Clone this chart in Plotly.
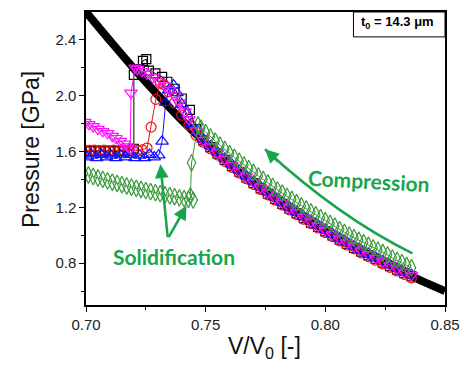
import plotly.graph_objects as go

# ---------------- data ----------------
# fitted equation-of-state curve (thick black line)
curve_v = [0.70, 0.71, 0.72, 0.73, 0.74, 0.75, 0.76, 0.77, 0.78, 0.79,
           0.80, 0.81, 0.82, 0.83, 0.84, 0.85]
curve_p = [2.600, 2.395, 2.195, 2.005, 1.825, 1.660, 1.510, 1.375, 1.250, 1.135,
           1.030, 0.930, 0.840, 0.755, 0.675, 0.600]

# black squares
sq_v = [0.836, 0.833, 0.830, 0.827, 0.824, 0.821, 0.818, 0.815, 0.812, 0.809,
        0.806, 0.803, 0.800, 0.797, 0.794, 0.791, 0.788, 0.785, 0.782, 0.779,
        0.776, 0.773, 0.770, 0.767, 0.764, 0.761, 0.758, 0.755, 0.752, 0.749,
        0.746, 0.7434, 0.740, 0.737, 0.734, 0.7318, 0.729, 0.7263, 0.7252, 0.7238,
        0.7222, 0.7200, 0.7200, 0.718, 0.716, 0.714, 0.712, 0.710, 0.708, 0.706,
        0.704, 0.702, 0.700]
sq_p = [0.705, 0.729, 0.753, 0.779, 0.804, 0.830, 0.856, 0.883, 0.910, 0.938,
        0.968, 0.998, 1.028, 1.060, 1.091, 1.123, 1.156, 1.190, 1.225, 1.261,
        1.298, 1.336, 1.374, 1.414, 1.455, 1.496, 1.540, 1.585, 1.632, 1.680,
        1.760, 1.898, 1.980, 2.050, 2.100, 2.135, 2.160, 2.180, 2.262, 2.250,
        2.190, 2.150, 1.620, 1.605, 1.600, 1.605, 1.600, 1.605, 1.600, 1.605,
        1.600, 1.605, 1.600]

# red circles
ci_v = [0.836, 0.833, 0.830, 0.827, 0.824, 0.821, 0.818, 0.815, 0.812, 0.809,
        0.806, 0.803, 0.800, 0.797, 0.794, 0.791, 0.788, 0.785, 0.782, 0.779,
        0.776, 0.773, 0.770, 0.767, 0.764, 0.761, 0.758, 0.755, 0.752, 0.749,
        0.746, 0.743, 0.740, 0.737, 0.7345, 0.7325, 0.731, 0.7292, 0.7272, 0.7255,
        0.7235, 0.7215, 0.7195, 0.7175, 0.7155, 0.7135, 0.7115, 0.7095, 0.7075, 0.7055,
        0.7035, 0.7015, 0.6995]
ci_p = [0.695, 0.720, 0.744, 0.770, 0.795, 0.821, 0.847, 0.874, 0.902, 0.930,
        0.960, 0.990, 1.020, 1.052, 1.083, 1.115, 1.148, 1.182, 1.217, 1.253,
        1.290, 1.328, 1.365, 1.405, 1.446, 1.487, 1.530, 1.575, 1.620, 1.667,
        1.716, 1.790, 1.860, 1.950, 2.030, 2.080, 2.090, 1.974, 1.775, 1.625,
        1.612, 1.608, 1.610, 1.607, 1.610, 1.606, 1.610, 1.607, 1.611, 1.607,
        1.610, 1.608, 1.610]

# blue up-triangles
tu_v = [0.836, 0.833, 0.830, 0.827, 0.824, 0.821, 0.818, 0.815, 0.812, 0.809,
        0.806, 0.803, 0.800, 0.797, 0.794, 0.791, 0.788, 0.785, 0.782, 0.779,
        0.776, 0.773, 0.770, 0.767, 0.764, 0.761, 0.758, 0.755, 0.752, 0.749,
        0.7468, 0.744, 0.742, 0.740, 0.738, 0.7366, 0.7345, 0.7333, 0.7318, 0.7304,
        0.7285, 0.7265, 0.7245, 0.7225, 0.7205, 0.7185, 0.7165, 0.7145, 0.7125, 0.7105,
        0.7085, 0.7065, 0.7045, 0.7025, 0.7005]
tu_p = [0.717, 0.741, 0.765, 0.790, 0.816, 0.842, 0.868, 0.895, 0.922, 0.950,
        0.980, 1.010, 1.040, 1.072, 1.103, 1.135, 1.168, 1.202, 1.237, 1.273,
        1.310, 1.348, 1.385, 1.426, 1.466, 1.507, 1.550, 1.595, 1.640, 1.687,
        1.740, 1.800, 1.870, 1.940, 2.020, 2.076, 2.040, 1.950, 1.673, 1.574,
        1.560, 1.578, 1.555, 1.572, 1.555, 1.578, 1.560, 1.575, 1.555, 1.572,
        1.560, 1.578, 1.555, 1.572, 1.560]

# magenta down-triangles
td_v = [0.836, 0.833, 0.830, 0.827, 0.824, 0.821, 0.818, 0.815, 0.812, 0.809,
        0.806, 0.803, 0.800, 0.797, 0.794, 0.791, 0.788, 0.785, 0.782, 0.779,
        0.776, 0.773, 0.770, 0.767, 0.764, 0.761, 0.758, 0.755, 0.752, 0.749,
        0.746, 0.743, 0.7414, 0.739, 0.737, 0.735, 0.733, 0.7305, 0.728, 0.7255,
        0.7235, 0.7215, 0.7205, 0.7188, 0.7185, 0.7175, 0.716, 0.7143, 0.7125, 0.711,
        0.709, 0.707, 0.705, 0.703, 0.7012, 0.6995]
td_p = [0.712, 0.736, 0.760, 0.785, 0.811, 0.836, 0.863, 0.890, 0.917, 0.945,
        0.975, 1.005, 1.035, 1.066, 1.098, 1.129, 1.163, 1.197, 1.232, 1.267,
        1.305, 1.342, 1.380, 1.420, 1.461, 1.501, 1.545, 1.590, 1.635, 1.681,
        1.750, 1.830, 1.886, 1.950, 2.000, 2.040, 2.070, 2.100, 2.130, 2.155,
        2.175, 2.190, 2.200, 2.020, 1.620, 1.635, 1.655, 1.675, 1.695, 1.710,
        1.730, 1.745, 1.760, 1.780, 1.795, 1.810]

# green diamonds
di_v = [0.836, 0.834, 0.832, 0.830, 0.828, 0.826, 0.824, 0.822, 0.820, 0.818,
        0.816, 0.814, 0.812, 0.810, 0.808, 0.806, 0.804, 0.802, 0.800, 0.798,
        0.796, 0.794, 0.792, 0.790, 0.788, 0.786, 0.784, 0.782, 0.780, 0.778,
        0.776, 0.774, 0.772, 0.770, 0.768, 0.766, 0.764, 0.762, 0.760, 0.758,
        0.756, 0.754, 0.752, 0.750, 0.748, 0.7468, 0.7441, 0.7436, 0.7448, 0.7428,
        0.741, 0.739, 0.737, 0.735, 0.733, 0.731, 0.729, 0.727, 0.725, 0.723,
        0.721, 0.719, 0.717, 0.715, 0.713, 0.711, 0.709, 0.707, 0.705, 0.703,
        0.701, 0.699]
di_p = [0.767, 0.783, 0.804, 0.820, 0.837, 0.859, 0.876, 0.893, 0.910, 0.928,
        0.946, 0.964, 0.982, 1.000, 1.020, 1.040, 1.065, 1.085, 1.105, 1.126,
        1.147, 1.168, 1.189, 1.210, 1.233, 1.256, 1.279, 1.302, 1.325, 1.350,
        1.375, 1.400, 1.425, 1.450, 1.477, 1.504, 1.531, 1.558, 1.585, 1.615,
        1.645, 1.675, 1.705, 1.735, 1.768, 1.790, 1.519, 1.282, 1.252, 1.258,
        1.262, 1.268, 1.276, 1.283, 1.290, 1.298, 1.305, 1.313, 1.320, 1.328,
        1.336, 1.344, 1.353, 1.362, 1.371, 1.380, 1.390, 1.400, 1.410, 1.421,
        1.432, 1.443]

x_ticks = [0.70, 0.75, 0.80, 0.85]
x_ticktext = ["0.70", "0.75", "0.80", "0.85"]
y_ticks = [0.8, 1.2, 1.6, 2.0, 2.4]
y_ticktext = ["0.8", "1.2", "1.6", "2.0", "2.4"]

# ---------------- styles ----------------
GREEN_TXT = "#17a54b"
SANS = "Liberation Sans, Arial, sans-serif"

fig = go.Figure()

fig.add_trace(go.Scatter(x=curve_v, y=curve_p, mode="lines",
                         line=dict(color="black", width=8, shape="spline"),
                         hoverinfo="skip", showlegend=False))

series = [
    (sq_v, sq_p, "square-open", "#000000", 9),
    (ci_v, ci_p, "circle-open", "#ee1111", 10),
    (tu_v, tu_p, "triangle-up-open", "#1010ff", 11),
    (td_v, td_p, "triangle-down-open", "#ff11ff", 11),
    (di_v, di_p, "diamond-tall-open", "#3a993a", 12),
]
for xv, yv, sym, col, sz in series:
    fig.add_trace(go.Scatter(x=xv, y=yv, mode="lines+markers",
                             line=dict(color=col, width=1),
                             marker=dict(symbol=sym, size=sz, color=col,
                                         line=dict(width=1.2, color=col)),
                             showlegend=False))

# compression arrow (curved) + head
arr_start = (0.8364, 0.870)
arr_ctrl = (0.8056, 1.130)
arr_end = (0.7748, 1.616)
fig.add_shape(type="path",
              path=f"M {arr_start[0]},{arr_start[1]} Q {arr_ctrl[0]},{arr_ctrl[1]} {arr_end[0]},{arr_end[1]}",
              xref="x", yref="y", line=dict(color=GREEN_TXT, width=2.5))
fig.add_annotation(x=arr_end[0], y=arr_end[1], ax=15, ay=14, xref="x", yref="y",
                   text="", showarrow=True, arrowhead=2, arrowsize=1.1,
                   arrowwidth=2.5, arrowcolor=GREEN_TXT)

# solidification arrows
vtx = (0.7342, 0.975)
for tip in [(0.7311, 1.508), (0.7420, 1.211)]:
    fig.add_annotation(x=tip[0], y=tip[1], ax=vtx[0], ay=vtx[1],
                       xref="x", yref="y", axref="x", ayref="y",
                       text="", showarrow=True, arrowhead=2, arrowsize=1.1,
                       arrowwidth=2.5, arrowcolor=GREEN_TXT)

fig.add_annotation(x=0.8184, y=1.389, xref="x", yref="y", text="<b>Compression</b>",
                   showarrow=False, textangle=3, xanchor="center", yanchor="middle",
                   font=dict(family="Lato, sans-serif", size=21, color=GREEN_TXT))
fig.add_annotation(x=0.7368, y=0.845, xref="x", yref="y", text="<b>Solidification</b>",
                   showarrow=False, xanchor="center", yanchor="middle",
                   font=dict(family="Lato, sans-serif", size=21, color=GREEN_TXT))

# t0 label box
fig.add_shape(type="rect", xref="paper", yref="paper", x0=0.745, x1=1.0, y0=0.915, y1=1.0,
              line=dict(color="black", width=1))
fig.add_annotation(x=0.8685, y=0.9627, xref="paper", yref="paper",
                   text="<b>t<sub>0</sub> = 14.3 μm</b>", showarrow=False,
                   xanchor="center", yanchor="middle",
                   font=dict(family=SANS, size=13, color="black"))

# axis titles
fig.add_annotation(x=-0.1534, y=0.532, xref="paper", yref="paper", text="Pressure [GPa]",
                   textangle=-90, showarrow=False, xanchor="center", yanchor="middle",
                   font=dict(family=SANS, size=23, color="#111111"))
fig.add_annotation(x=0.4986, y=-0.1458, xref="paper", yref="paper", text="V/V<sub>0</sub> [-]",
                   showarrow=False, xanchor="center", yanchor="middle",
                   font=dict(family=SANS, size=23, color="#111111"))

axis_common = dict(showgrid=False, zeroline=False, showline=True, linecolor="black",
                   linewidth=1.5, mirror=True, ticks="outside", ticklen=5, tickwidth=1.2,
                   tickcolor="black", tickfont=dict(family=SANS, size=15, color="#222222"))

fig.update_layout(
    width=470, height=368,
    margin=dict(l=86, r=19, t=10, b=63),
    paper_bgcolor="white", plot_bgcolor="white",
    xaxis=dict(range=[0.70, 0.85], tickmode="array", tickvals=x_ticks, ticktext=x_ticktext,
               minor=dict(ticks="outside", ticklen=3, tickvals=[0.725, 0.775, 0.825],
                          tickcolor="black"),
               **axis_common),
    yaxis=dict(range=[0.5, 2.6], tickmode="array", tickvals=y_ticks, ticktext=y_ticktext,
               minor=dict(ticks="outside", ticklen=3, tickvals=[0.6, 1.0, 1.4, 1.8, 2.2],
                          tickcolor="black"),
               **axis_common),
)

fig.write_html("out.html", config={"displayModeBar": False},
               post_script="document.body.style.margin='0';document.body.style.overflow='hidden';")
